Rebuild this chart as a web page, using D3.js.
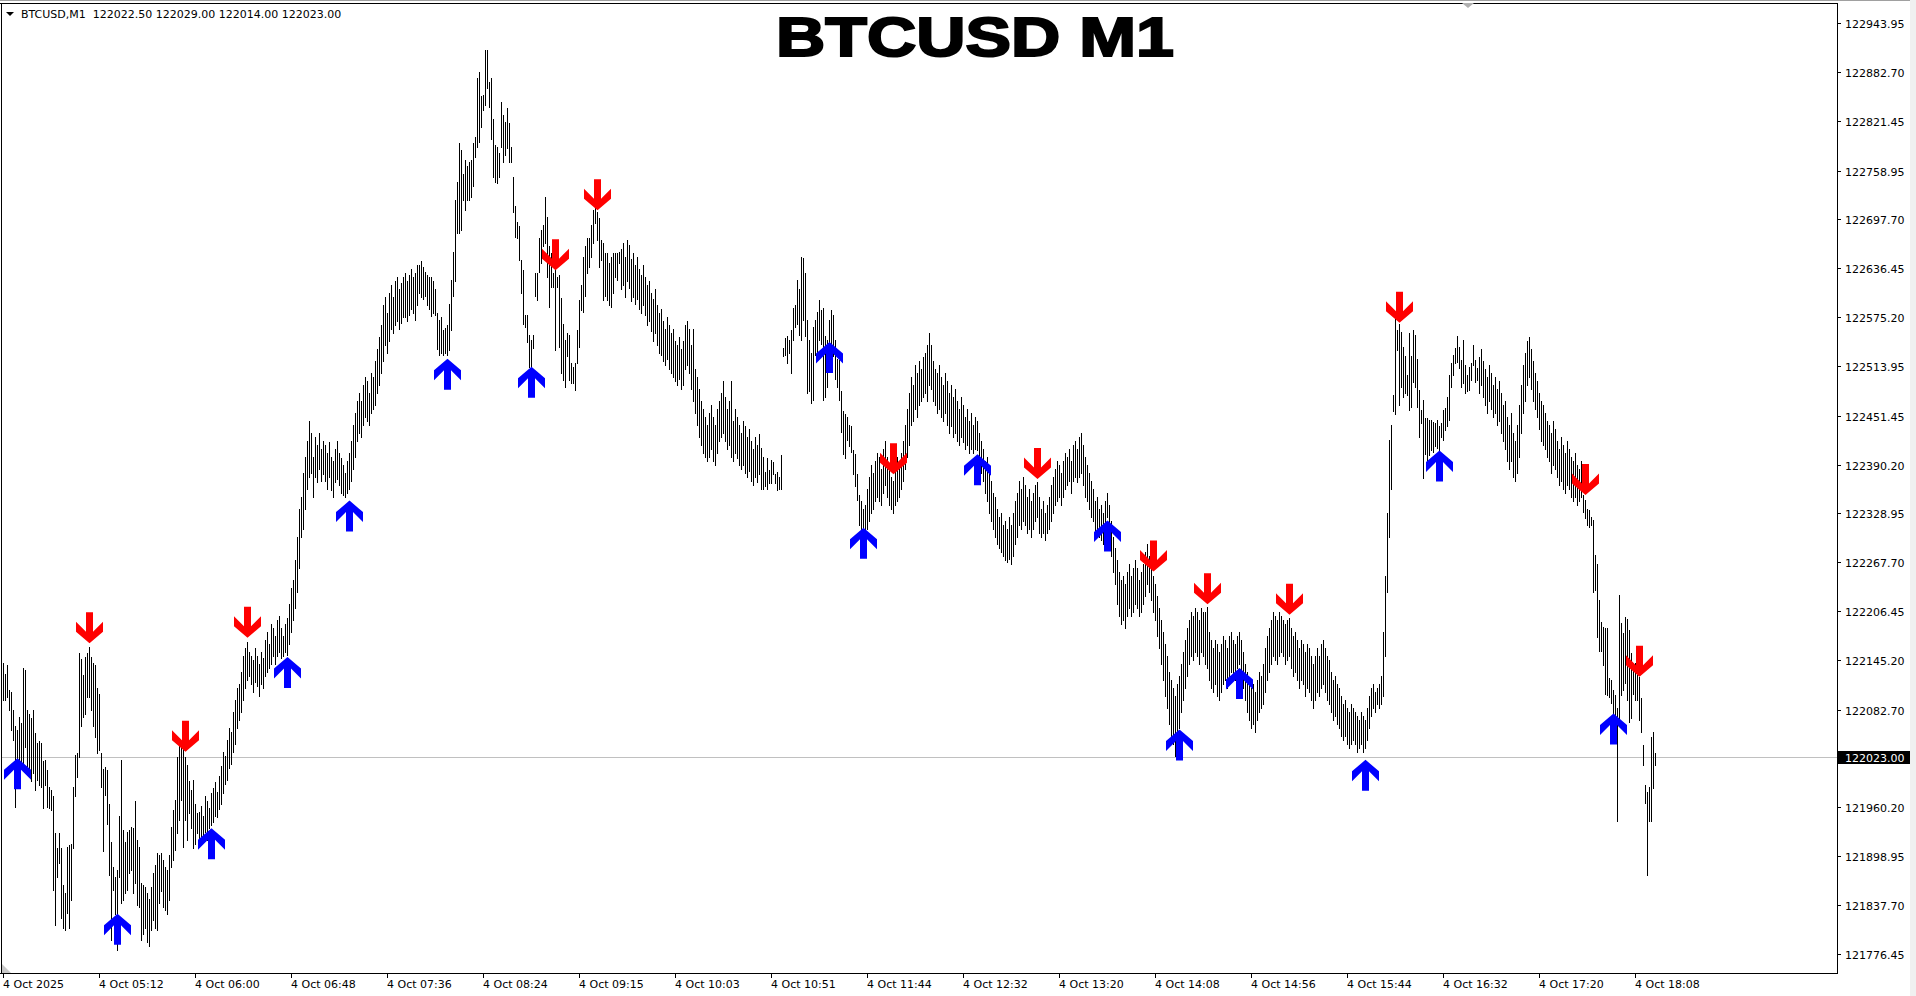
<!DOCTYPE html>
<meta charset="utf-8">
<style>
body { margin: 0; background: #fff; }
svg { display: block; }
.axis text { font-family: "DejaVu Sans", sans-serif; font-size: 11px; fill: #000; }
.bars line { stroke: #000; stroke-width: 1px; shape-rendering: crispEdges; }
</style>
<svg width="1916" height="996"></svg>
<script src="https://d3js.org/d3.v7.min.js"></script>
<script>

  var symbol = "BTCUSD,M1";
  var title = "BTCUSD M1";
  var lastBar = [122022.50, 122029.00, 122014.00, 122023.00];

  var priceTicks = [122943.95, 122882.70, 122821.45, 122758.95, 122697.70, 122636.45, 122575.20,
                    122513.95, 122451.45, 122390.20, 122328.95, 122267.70, 122206.45, 122145.20,
                    122082.70, 121960.20, 121898.95, 121837.70, 121776.45];

  var timeLabels = ["4 Oct 2025", "4 Oct 05:12", "4 Oct 06:00", "4 Oct 06:48", "4 Oct 07:36",
                    "4 Oct 08:24", "4 Oct 09:15", "4 Oct 10:03", "4 Oct 10:51", "4 Oct 11:44",
                    "4 Oct 12:32", "4 Oct 13:20", "4 Oct 14:08", "4 Oct 14:56", "4 Oct 15:44",
                    "4 Oct 16:32", "4 Oct 17:20", "4 Oct 18:08"];
  var barsPerLabel = 48;

  // one bar per minute, high and low
  var highs = [
    122141,122128,122139,122108,122105,122083,122062,122057,122074,122066,
    122135,122133,122083,122078,122072,122083,122053,122041,122043,122041,
    122018,122020,122007,121986,121982,121974,121928,121909,121928,121909,
    121863,121853,121911,121913,121915,121986,122026,122028,122154,122147,
    122126,122149,122154,122162,122149,122141,122139,122110,122103,122028,
    122009,122011,122007,121965,121917,121886,121873,121882,121949,122020,
    121932,121917,121930,121932,121936,121934,121968,121919,121911,121865,
    121863,121861,121853,121846,121861,121878,121888,121903,121901,121903,
    121894,121886,121882,121901,121936,121957,121970,122024,122039,122036,
    122041,122024,122014,121993,121982,121995,121965,121953,121955,121962,
    121950,121975,121968,121960,121978,121985,121992,121980,122000,122012,
    122030,122025,122045,122060,122055,122080,122095,122110,122115,122130,
    122150,122160,122168,122155,122150,122145,122160,122150,122140,122155,
    122148,122170,122180,122165,122190,122185,122175,122195,122200,122185,
    122175,122190,122198,122215,122235,122245,122270,122300,122335,122350,
    122380,122400,122420,122445,122430,122400,122425,122415,122430,122410,
    122420,122415,122405,122418,122400,122395,122410,122420,122405,122398,
    122390,122380,122395,122405,122420,122440,122455,122470,122480,122470,
    122490,122500,122495,122480,122505,122500,122520,122535,122550,122565,
    122590,122600,122580,122605,122615,122600,122620,122625,122610,122618,
    122625,122630,122620,122628,122635,122625,122630,122640,122640,122645,
    122638,122632,122628,122625,122626,122620,122610,122580,122572,122575,
    122559,122562,122565,122592,122622,122657,122722,122745,122793,122785,
    122755,122772,122764,122770,122772,122793,122801,122875,122883,122852,
    122854,122910,122910,122870,122875,122824,122791,122789,122781,122845,
    122829,122820,122837,122818,122789,122751,122714,122695,122689,122647,
    122634,122578,122578,122553,122546,122553,122630,122630,122674,122684,
    122691,122726,122701,122664,122655,122630,122638,122626,122628,122599,
    122567,122546,122555,122553,122517,122513,122517,122559,122597,122615,
    122651,122664,122674,122674,122691,122709,122718,122707,122699,122672,
    122668,122655,122655,122643,122651,122655,122655,122655,122657,122660,
    122668,122650,122672,122665,122648,122655,122640,122650,122635,122628,
    122640,122625,122615,122620,122605,122598,122610,122590,122580,122585,
    122570,122560,122575,122565,122555,122560,122545,122540,122550,122535,
    122545,122565,122570,122560,122540,122560,122510,122500,122485,122470,
    122460,122450,122440,122455,122465,122450,122440,122460,122470,122480,
    122495,122475,122460,122470,122495,122445,122460,122450,122440,122430,
    122445,122438,122425,122435,122420,122410,122425,122415,122429,122411,
    122400,122381,122398,122383,122396,122394,122379,122381,122375,122402,
    122536,122549,122551,122546,122559,122586,122590,122622,122611,122651,
    122649,122630,122571,122546,122530,122563,122571,122582,122597,122584,
    122586,122551,122546,122571,122584,122578,122546,122523,122521,122482,
    122457,122454,122450,122440,122438,122408,122404,122379,122352,122345,
    122335,122340,122360,122375,122390,122380,122395,122405,122400,122385,
    122410,122420,122400,122390,122375,122370,122385,122400,122390,122405,
    122420,122440,122460,122480,122500,122490,122515,122505,122520,122510,
    122525,122530,122540,122555,122540,122520,122510,122505,122515,122500,
    122490,122505,122495,122480,122490,122475,122485,122470,122460,122475,
    122465,122450,122460,122445,122455,122440,122450,122445,122430,122420,
    122410,122395,122400,122380,122370,122355,122350,122335,122325,122330,
    122315,122320,122310,122325,122315,122330,122345,122355,122370,122360,
    122375,122365,122350,122360,122345,122355,122365,122368,122350,122335,
    122345,122330,122340,122350,122365,122375,122385,122395,122390,122380,
    122395,122405,122400,122410,122395,122415,122420,122410,122425,122430,
    122415,122400,122390,122380,122370,122360,122345,122350,122335,122340,
    122330,122345,122355,122340,122320,122300,122285,122270,122255,122245,
    122250,122240,122255,122265,122250,122260,122270,122260,122245,122255,
    122265,122280,122290,122275,122265,122250,122240,122225,122210,122195,
    122180,122165,122150,122130,122120,122110,122100,122115,122125,122140,
    122155,122170,122185,122195,122205,122200,122210,122205,122195,122210,
    122205,122205,122212,122180,122170,122160,122170,122165,122155,122165,
    122175,122170,122160,122175,122180,122170,122165,122175,122180,122170,
    122155,122140,122130,122120,122110,122115,122105,122120,122130,122125,
    122140,122160,122175,122185,122195,122205,122200,122195,122205,122200,
    122195,122190,122195,122198,122185,122175,122180,122170,122160,122170,
    122165,122155,122165,122160,122150,122140,122150,122160,122150,122165,
    122170,122160,122150,122145,122130,122120,122125,122115,122110,122100,
    122090,122095,122085,122080,122090,122085,122080,122075,122070,122080,
    122075,122070,122085,122100,122110,122115,122105,122110,122115,122125,
    122180,122250,122330,122421,122440,122477,122582,122559,122567,122557,
    122538,122526,122503,122555,122526,122559,122553,122523,122484,122459,
    122471,122448,122448,122446,122446,122444,122442,122446,122438,122442,
    122459,122461,122475,122503,122517,122528,122536,122551,122538,122521,
    122546,122515,122503,122513,122517,122540,122521,122511,122525,122535,
    122520,122510,122500,122515,122505,122490,122500,122485,122495,122480,
    122465,122470,122450,122440,122455,122430,122420,122440,122465,122490,
    122515,122530,122545,122550,122535,122520,122505,122495,122480,122470,
    122465,122455,122445,122440,122430,122445,122435,122420,122410,122425,
    122415,122405,122420,122410,122400,122395,122405,122390,122385,122395,
    122352,122346,122335,122333,122325,122321,122277,122266,122220,122193,
    122187,122185,122185,122122,122120,122108,122101,122085,122227,122191,
    122179,122199,122197,122183,122154,122139,122141,122126,122124,122097,
    122039,121988,121980,121986,122049,122055,122029
  ];

  var lows = [
    122095,122095,122099,122083,122057,122045,121961,122022,122020,122016,
    122011,122036,122011,122007,121993,122003,121982,121995,121988,121986,
    121959,121988,121961,121959,121957,121857,121813,121873,121890,121821,
    121809,121807,121828,121809,121844,121909,121974,121999,122024,122062,
    122074,122078,122099,122099,122083,122062,122049,122028,122032,121986,
    121905,121976,121940,121876,121794,121857,121827,121781,121873,121840,
    121844,121853,121857,121878,121882,121853,121865,121838,121836,121794,
    121802,121809,121792,121786,121807,121819,121809,121807,121840,121855,
    121836,121832,121827,121844,121886,121894,121907,121928,121945,121970,
    121911,121945,121919,121953,121934,121909,121915,121928,121915,121925,
    121918,121930,121920,121935,121938,121942,121950,121948,121958,121965,
    121978,121990,121995,122010,122015,122030,122040,122060,122070,122080,
    122095,122110,122120,122125,122115,122105,122118,122112,122100,122115,
    122110,122125,122130,122135,122140,122150,122140,122150,122155,122148,
    122150,122155,122152,122165,122180,122195,122210,122230,122260,122300,
    122310,122335,122360,122375,122380,122350,122375,122368,122385,122370,
    122378,122370,122360,122375,122358,122350,122368,122372,122365,122355,
    122352,122350,122355,122360,122370,122385,122400,122420,122430,122425,
    122440,122450,122445,122440,122455,122460,122465,122480,122490,122505,
    122520,122540,122530,122545,122560,122555,122565,122570,122560,122568,
    122575,122575,122570,122578,122585,122580,122572,122590,122605,122600,
    122598,122602,122590,122585,122576,122580,122578,122535,122528,122530,
    122528,122530,122528,122534,122559,122601,122620,122680,122680,122684,
    122722,122709,122722,122722,122726,122739,122776,122789,122795,122814,
    122835,122841,122862,122839,122799,122751,122745,122743,122751,122789,
    122770,122778,122787,122770,122770,122707,122676,122674,122647,122605,
    122567,122563,122544,122513,122513,122536,122601,122597,122632,122643,
    122664,122668,122626,122588,122613,122613,122534,122613,122538,122505,
    122496,122488,122526,122496,122492,122492,122484,122517,122538,122584,
    122582,122601,122630,122638,122651,122668,122693,122672,122638,122647,
    122597,122601,122597,122590,122588,122605,122626,122622,122643,122610,
    122615,122600,122620,122612,122595,122600,122592,122598,122585,122580,
    122590,122578,122565,122570,122558,122545,122555,122540,122530,122528,
    122520,122515,122522,122510,122505,122500,122495,122490,122498,122485,
    122490,122510,122515,122505,122485,122470,122455,122440,122425,122415,
    122405,122400,122395,122400,122410,122395,122390,122405,122420,122425,
    122430,122420,122410,122415,122400,122395,122405,122398,122390,122385,
    122390,122380,122375,122382,122370,122365,122375,122368,122379,122360,
    122360,122363,122360,122367,122367,122379,122367,122358,122360,122360,
    122526,122528,122517,122530,122505,122546,122563,122567,122553,122546,
    122571,122551,122480,122482,122467,122471,122528,122521,122546,122542,
    122471,122475,122488,122544,122523,122526,122498,122488,122471,122431,
    122404,122398,122421,122413,122406,122379,122363,122346,122315,122300,
    122292,122298,122310,122320,122330,122335,122345,122350,122345,122340,
    122355,122365,122350,122340,122335,122330,122340,122345,122350,122360,
    122370,122385,122400,122415,122440,122445,122460,122450,122465,122470,
    122475,122480,122470,122490,122485,122470,122465,122455,122460,122450,
    122445,122455,122440,122430,122438,122425,122430,122420,122415,122425,
    122418,122410,122415,122405,122410,122405,122410,122408,122395,122380,
    122370,122355,122345,122330,122320,122310,122300,122290,122285,122280,
    122275,122270,122268,122272,122265,122275,122290,122300,122315,122310,
    122320,122315,122305,122310,122300,122310,122320,122325,122305,122300,
    122305,122295,122305,122310,122320,122330,122340,122345,122350,122340,
    122350,122360,122365,122370,122355,122370,122375,122368,122375,122380,
    122365,122350,122345,122335,122325,122320,122305,122310,122300,122295,
    122290,122300,122325,122300,122275,122255,122240,122215,122200,122190,
    122195,122185,122200,122210,122200,122205,122215,122210,122200,122205,
    122215,122225,122240,122230,122220,122205,122195,122175,122160,122140,
    122120,122100,122085,122065,122050,122040,122025,122040,122060,122080,
    122095,122110,122125,122140,122150,122145,122155,122150,122140,122155,
    122150,122140,122135,122120,122110,122105,122115,122100,122095,122105,
    122115,122120,122110,122120,122130,122125,122120,122135,122140,122125,
    122110,122095,122080,122070,122060,122065,122055,122070,122080,122085,
    122090,122105,122120,122130,122140,122150,122145,122140,122150,122155,
    122150,122140,122145,122150,122135,122125,122130,122120,122110,122120,
    122115,122100,122110,122105,122095,122085,122095,122105,122100,122110,
    122115,122105,122095,122090,122080,122070,122075,122065,122060,122050,
    122045,122050,122040,122035,122040,122045,122040,122030,122035,122040,
    122030,122035,122045,122060,122075,122085,122080,122090,122085,122090,
    122100,122150,122230,122300,122360,122457,122454,122534,122465,122488,
    122475,122480,122477,122459,122463,122494,122488,122463,122425,122442,
    122373,122404,122396,122402,122408,122406,122413,122411,122408,122425,
    122421,122433,122438,122446,122488,122503,122517,122519,122511,122488,
    122492,122480,122482,122484,122496,122515,122494,122496,122480,122490,
    122475,122465,122455,122470,122460,122450,122455,122440,122445,122430,
    122420,122410,122395,122385,122395,122375,122370,122380,122400,122430,
    122455,122470,122490,122500,122485,122470,122460,122450,122435,122420,
    122415,122410,122400,122395,122380,122390,122385,122375,122365,122370,
    122360,122355,122365,122360,122350,122345,122350,122340,122345,122350,
    122331,122323,122314,122312,122314,122231,122233,122174,122156,122156,
    122139,122103,122101,122099,122091,122078,122066,121943,122070,122101,
    122108,122116,122095,122068,122072,122103,122095,122095,122070,122055,
    122014,121966,121876,121943,121943,121984,122014
  ];

  // signal arrows: [bar, price at arrow tip]
  var buySignals = [[7,122022],[57,121827],[104,121934],[142,122149],[173,122345],[222,122523],
                    [264,122513],[413,122544],[430,122311],[487,122403],[552,122320],[588,122058],
                    [618,122135],[681,122020],[718,122408],[805,122078]];
  var sellSignals = [[43,122166],[91,122030],[122,122173],[276,122634],[297,122709],[445,122378],
                     [517,122372],[575,122256],[602,122215],[643,122202],[698,122568],[791,122352],
                     [818,122124]];

  var svg = d3.select("svg"),
      width = +svg.attr("width"),
      height = +svg.attr("height");

  var plotLeft = 2, plotRight = 1837, plotTop = 3, plotBottom = 973;

  var x = d3.scaleLinear().domain([0, highs.length - 1]).range([3, 3 + 2 * (highs.length - 1)]);
  var y = d3.scaleLinear().domain([121776.45, 122943.95]).range([954, 23]);

  svg.append("rect").attr("width", width).attr("height", height).attr("fill", "#fff");
  svg.append("rect").attr("x", 1910).attr("width", 6).attr("height", height).attr("fill", "#f0f0f0");

  // window frame
  svg.append("line").attr("x1", 0).attr("x2", 1910).attr("y1", 0.5).attr("y2", 0.5).attr("stroke", "#a0a0a0");
  svg.append("line").attr("x1", 0).attr("x2", plotRight).attr("y1", plotTop + 0.5).attr("y2", plotTop + 0.5).attr("stroke", "#000");
  svg.append("line").attr("x1", 1.5).attr("x2", 1.5).attr("y1", plotTop).attr("y2", plotBottom).attr("stroke", "#000");

  // current price line
  var yLast = Math.round(y(lastBar[3])) + 0.5;
  svg.append("line")
      .attr("x1", plotLeft).attr("x2", plotRight)
      .attr("y1", yLast).attr("y2", yLast)
      .attr("stroke", "#c0c0c0");

  svg.append("g")
      .attr("class", "bars")
    .selectAll("line")
    .data(highs)
    .enter().append("line")
      .attr("x1", function(d, i) { return x(i) + 0.5; })
      .attr("x2", function(d, i) { return x(i) + 0.5; })
      .attr("y1", function(d) { return Math.round(y(d)); })
      .attr("y2", function(d, i) { return Math.round(y(lows[i])) + 1; });

  var arrowPath = "M-3.5,-31H3.5V-11.5L13.5,-21.5V-11.5L0,0L-13.5,-11.5V-21.5L-3.5,-11.5Z";

  svg.append("g").selectAll("path")
    .data(sellSignals)
    .enter().append("path")
      .attr("d", arrowPath)
      .attr("fill", "#ff0000")
      .attr("transform", function(d) { return "translate(" + (x(d[0]) + 0.5) + "," + y(d[1]) + ")"; });

  svg.append("g").selectAll("path")
    .data(buySignals)
    .enter().append("path")
      .attr("d", arrowPath)
      .attr("fill", "#0000ff")
      .attr("transform", function(d) { return "translate(" + (x(d[0]) + 0.5) + "," + y(d[1]) + ") scale(1,-1)"; });

  // price axis
  var yAxis = svg.append("g").attr("class", "axis");
  yAxis.append("line")
      .attr("x1", plotRight + 0.5).attr("x2", plotRight + 0.5)
      .attr("y1", plotTop).attr("y2", plotBottom + 1)
      .attr("stroke", "#000");
  var yt = yAxis.selectAll(".tick")
    .data(priceTicks)
    .enter().append("g")
      .attr("class", "tick")
      .attr("transform", function(d) { return "translate(0," + (Math.round(y(d)) + 0.5) + ")"; });
  yt.append("line").attr("x1", plotRight).attr("x2", plotRight + 4).attr("stroke", "#000");
  yt.append("text").attr("x", plotRight + 8).attr("y", 4).text(function(d) { return d.toFixed(2); });

  yAxis.append("rect")
      .attr("x", plotRight + 1).attr("y", yLast - 6.5)
      .attr("width", 72).attr("height", 13)
      .attr("fill", "#000");
  yAxis.append("text")
      .attr("x", plotRight + 8).attr("y", yLast + 4)
      .style("fill", "#fff")
      .text(lastBar[3].toFixed(2));

  // time axis
  var xAxis = svg.append("g").attr("class", "axis");
  xAxis.append("line")
      .attr("x1", 0).attr("x2", plotRight + 1)
      .attr("y1", plotBottom + 0.5).attr("y2", plotBottom + 0.5)
      .attr("stroke", "#000");
  var xt = xAxis.selectAll(".tick")
    .data(timeLabels)
    .enter().append("g")
      .attr("class", "tick")
      .attr("transform", function(d, i) { return "translate(" + (x(i * barsPerLabel) + 0.5) + ",0)"; });
  xt.append("line").attr("y1", plotBottom).attr("y2", plotBottom + 5).attr("stroke", "#000");
  xt.append("text").attr("x", -0.5).attr("y", 988).text(function(d) { return d; });

  // little markers
  svg.append("path").attr("d", "M2,964L2,973L11,973Z").attr("fill", "#c8c8c8");
  svg.append("path").attr("d", "M1462,3L1474,3L1468,8Z").attr("fill", "#b0b0b0");

  // header line
  svg.append("path").attr("d", "M6,12L14,12L10,16Z").attr("fill", "#000");
  svg.append("text")
      .attr("x", 21).attr("y", 18)
      .style("font-family", "'DejaVu Sans', sans-serif")
      .style("font-size", "11px")
      .style("white-space", "pre")
      .text(symbol + "  " + lastBar.map(function(v) { return v.toFixed(2); }).join(" "));

  svg.append("text")
      .attr("x", 776).attr("y", 56)
      .attr("textLength", 398)
      .attr("lengthAdjust", "spacingAndGlyphs")
      .style("font-family", "'Liberation Sans', Arial, sans-serif")
      .style("font-weight", "bold")
      .style("font-size", "55px")
      .style("fill", "#000")
      .style("stroke", "#000")
      .style("stroke-width", "2px")
      .text(title);

</script>
